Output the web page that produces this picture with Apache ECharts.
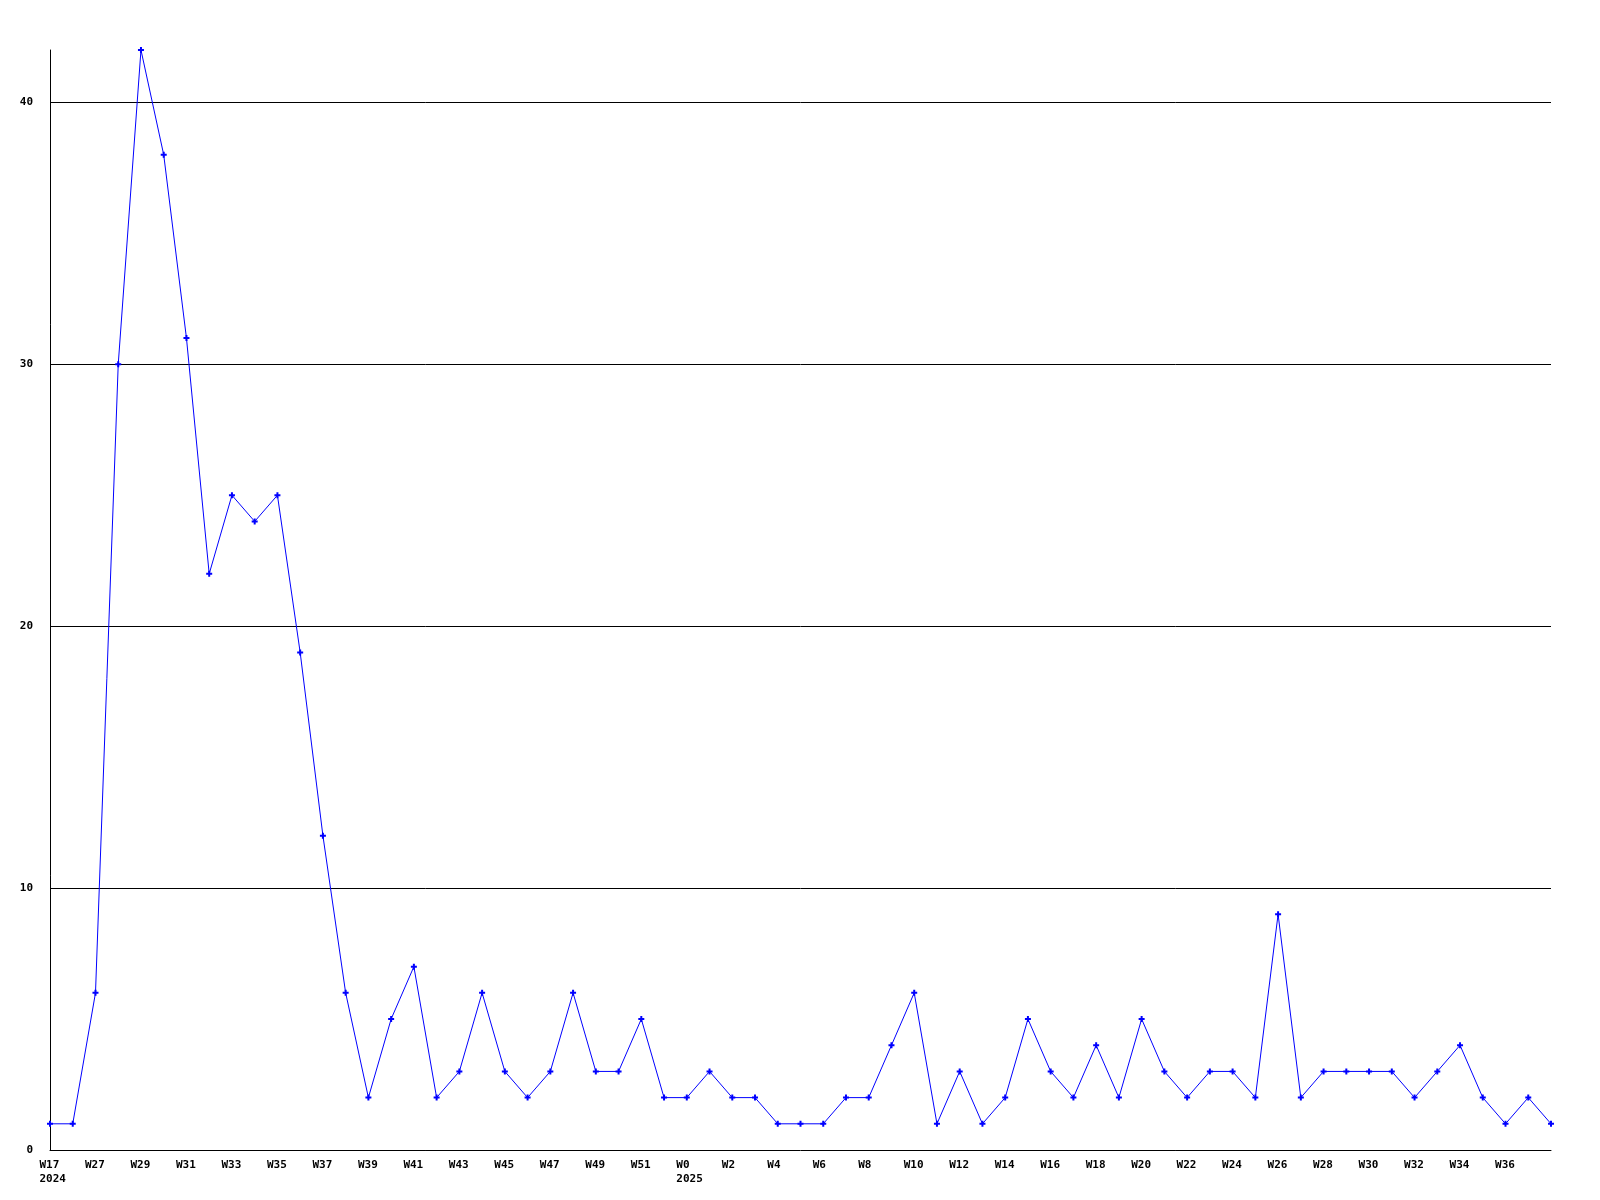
<!DOCTYPE html>
<html>
<head>
<meta charset="utf-8">
<script src="https://cdn.jsdelivr.net/npm/echarts@6/dist/echarts.min.js"></script>
<style>
html,body{margin:0;padding:0;background:#fff;}
#c{width:1600px;height:1200px;}
</style>
</head>
<body>
<div id="c"></div>
<script>
const categories = [
  "W17","W26","W27","W28","W29","W30","W31","W32","W33","W34","W35","W36","W37","W38","W39","W40","W41","W42","W43","W44","W45","W46","W47","W48","W49","W50","W51","W52",
  "W0","W1","W2","W3","W4","W5","W6","W7","W8","W9","W10","W11","W12","W13","W14","W15","W16","W17","W18","W19","W20","W21","W22","W23","W24","W25","W26","W27","W28","W29","W30","W31","W32","W33","W34","W35","W36","W37","W38"
];
const yearLabels = {0:"2024", 28:"2025"};
const values = [
  1,1,6,30,42,38,31,22,25,24,25,19,12,6,2,5,7,2,3,6,3,2,3,6,3,3,5,2,
  2,3,2,2,1,1,1,2,2,4,6,1,3,1,2,5,3,2,4,2,5,3,2,3,3,2,9,2,3,3,3,3,2,3,4,2,1,2,1
];
const yTicks = [0,10,20,30,40];

const font = {fontFamily:'"DejaVu Sans Mono", monospace', fontWeight:'bold', fontSize:11, color:'#000'};
function xLabel(v, i){
  const y = yearLabels[i];
  return y ? '{w|' + v + '}\n{w|' + y + '}' : '{w|' + v + '}';
}
const chart = echarts.init(document.getElementById('c'), null, {renderer:'canvas'});
chart.setOption({
  animation:false,
  backgroundColor:'#fff',
  grid:{left:50,right:49,top:50,bottom:50,containLabel:false},
  xAxis:{
    type:'category',
    data:categories,
    boundaryGap:false,
    axisLine:{lineStyle:{color:'#000',width:1}},
    axisTick:{show:false},
    axisLabel:Object.assign({interval:1,margin:8,showMaxLabel:false,formatter:xLabel,
      rich:{w:Object.assign({width:21,align:'left',lineHeight:14}, font)}}, font),
    splitLine:{show:false}
  },
  yAxis:{
    type:'value',
    min:0,max:42,interval:10,
    axisLine:{show:true,lineStyle:{color:'#000',width:1}},
    axisTick:{show:false},
    axisLabel:Object.assign({margin:17,showMaxLabel:false,
      formatter:function(v){return yTicks.indexOf(v)>=0?String(v):'';}}, font),
    splitLine:{show:true,showMinLine:false,showMaxLine:false,lineStyle:{color:'#000',width:1}}
  },
  series:[{
    type:'line',
    data:values,
    symbol:'path://M2,0L4,0L4,2L6,2L6,4L4,4L4,6L2,6L2,4L0,4L0,2L2,2Z',
    symbolSize:6,
    showAllSymbol:true,
    lineStyle:{color:'#0000ff',width:1},
    itemStyle:{color:'#0000ff'}
  }]
});
</script>
</body>
</html>
